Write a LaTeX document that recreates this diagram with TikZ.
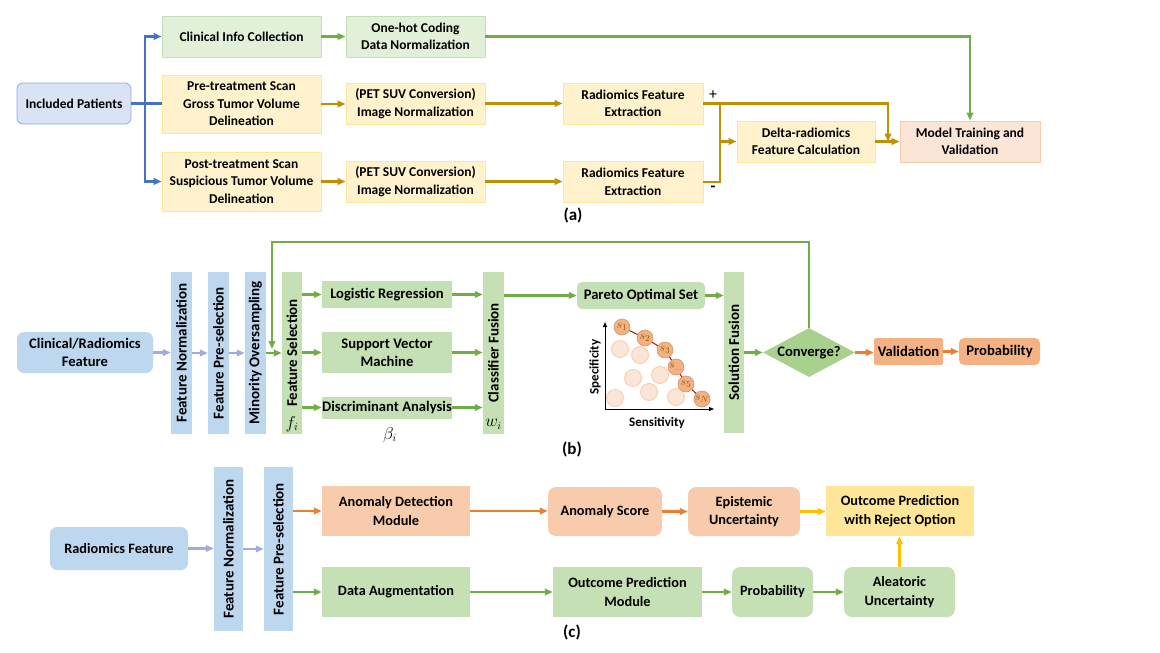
\documentclass[tikz,border=0pt]{standalone}
\usepackage{fontspec}
\setmainfont{Carlito}
\usetikzlibrary{arrows.meta, shapes.geometric, calc}

\definecolor{grnA}{HTML}{E2F0D9}
\definecolor{grnAline}{HTML}{C5E0B4}
\definecolor{ylwA}{HTML}{FFF2CC}
\definecolor{ylwAline}{HTML}{FFE699}
\definecolor{pchA}{HTML}{FBE5D6}
\definecolor{pchAline}{HTML}{F8CBAD}
\definecolor{bluA}{HTML}{DAE3F3}
\definecolor{bluAline}{HTML}{8FAADC}
\definecolor{bluB}{HTML}{BDD7EE}
\definecolor{grnB}{HTML}{C5E0B4}
\definecolor{grnD}{HTML}{A9D18E}
\definecolor{orgB}{HTML}{F4B183}
\definecolor{orgC}{HTML}{F8CBAD}
\definecolor{ylwC}{HTML}{FFE699}
\definecolor{arrBlue}{HTML}{4472C4}
\definecolor{arrGreen}{HTML}{70AD47}
\definecolor{arrGold}{HTML}{BF9000}
\definecolor{arrLav}{RGB}{160,172,222}
\definecolor{arrOrange}{HTML}{ED7D31}
\definecolor{arrYellow}{HTML}{FFC000}
\definecolor{sText}{HTML}{7F6000}

\newcommand\sizeA{\fontsize{13.5}{17.5}\selectfont}
\newcommand\sizeB{\fontsize{14.6}{18}\selectfont}
\newcommand\sizeC{\fontsize{14.3}{18.5}\selectfont}
\newcommand\sizeBar{\fontsize{15}{18}\selectfont}

\begin{document}
\begin{tikzpicture}[x=1pt, y=-1pt, >={Triangle[length=8pt,width=6.5pt]},
    sz/.style 2 args={minimum width=#1, minimum height=#2},
    boxbase/.style={align=center, inner sep=0pt, font=\bfseries\sizeA},
    ga/.style={boxbase, draw=grnAline, fill=grnA, line width=0.8pt},
    ya/.style={boxbase, draw=ylwAline, fill=ylwA, line width=0.8pt},
    pa/.style={boxbase, draw=pchAline, fill=pchA, line width=0.8pt},
    ba/.style={boxbase, draw=bluAline, fill=bluA, line width=0.8pt, rounded corners=6pt},
    bb/.style={boxbase, fill=bluB, rounded corners=7pt, font=\bfseries\sizeB},
    gb/.style={boxbase, fill=grnB, font=\bfseries\sizeB},
    ob/.style={boxbase, fill=orgB, font=\bfseries\sizeB},
    bbar/.style={boxbase, fill=bluB, rotate=90, font=\bfseries\sizeBar},
    gbar/.style={boxbase, fill=grnB, rotate=90, font=\bfseries\sizeBar},
    conv/.style={boxbase, shape=diamond, fill=grnD, aspect=1.9, sz={92}{49}, font=\bfseries\sizeB},
    oc/.style={boxbase, fill=orgC, font=\bfseries\sizeC},
    gc/.style={boxbase, fill=grnB, font=\bfseries\sizeC},
    yc/.style={boxbase, fill=ylwC, font=\bfseries\sizeC},
    lbl/.style={font=\bfseries\fontsize{17}{20}\selectfont},
    mth/.style={font=\fontsize{16}{18}\selectfont},
    barr/.style={draw=arrBlue, line width=2.6pt},
    darr/.style={draw=arrGold, line width=2.6pt},
    garr/.style={draw=arrGreen, line width=2.3pt},
    larr/.style={draw=arrLav, line width=2.3pt},
    oarr/.style={draw=arrOrange, line width=2.3pt},
    yarr/.style={draw=arrYellow, line width=2.3pt},
    axis/.style={->, >={Triangle[length=5pt,width=4pt]}, line width=1pt},
    lightdot/.style={draw=pchAline, fill=pchA, line width=0.8pt},
    pdot/.style={circle, draw=orgB!85!black, fill=orgB, line width=0.6pt, minimum size=16pt, inner sep=0pt,
        text=sText, font=\fontsize{13}{13}\selectfont},
    pline/.style={draw=red!75!black, line width=1pt}]
    \useasboundingbox (0,0) rectangle (1160,653);

    % (a) data preparation
    \node[ba, sz={114}{41}] (pat) at (74,103.5) {Included Patients};
    \node[ga, sz={159}{41}] (clin) at (241.5,36.5) {Clinical Info Collection};
    \node[ga, sz={139}{41}] (onehot) at (415.5,36.5) {One-hot Coding\\Data Normalization};
    \node[ya, sz={159}{58}] (pre) at (241.5,104) {Pre-treatment Scan\\Gross Tumor Volume\\Delineation};
    \node[ya, sz={139}{41}] (peta) at (415.5,103.5) {(PET SUV Conversion)\\Image Normalization};
    \node[ya, sz={159}{59}] (post) at (241.5,181.5) {Post-treatment Scan\\Suspicious Tumor Volume\\Delineation};
    \node[ya, sz={139}{41}] (petb) at (415.5,181.5) {(PET SUV Conversion)\\Image Normalization};
    \node[ya, sz={140}{41}] (rfea) at (633,103.5) {Radiomics Feature\\Extraction};
    \node[ya, sz={140}{41}] (rfeb) at (633,182) {Radiomics Feature\\Extraction};
    \node[ya, sz={138}{41}] (delta) at (806,141.5) {Delta-radiomics\\Feature Calculation};
    \node[pa, sz={140}{41}] (model) at (970,141.5) {Model Training and\\Validation};
    \node[font=\fontsize{16}{16}\selectfont] (plus) at (713,95) {+};
    \node[font=\bfseries\fontsize{16}{16}\selectfont] (minus) at (713,189) {-};
    \node[lbl] (capa) at (573,215) {(a)};

    \coordinate (split) at (145,103.5);
    \coordinate (joint) at (720,141.5);
    \coordinate (dropin) at (888,141.5);
    \draw[barr] (pat.east) -- (split);
    \draw[barr, ->] (split) |- (clin.west);
    \draw[barr, ->] (split) |- (post.west);
    \draw[barr] (split) -- (split -| pre.west);
    \draw[garr, ->] (clin.east) -- (onehot.west);
    \draw[garr, ->] (onehot.east) -| (model.north);
    \draw[darr, ->] (pre.east) -- (pre.east -| peta.west);
    \draw[darr, ->] (peta.east) -- (rfea.west);
    \draw[darr, ->] (post.east) -- (petb.west);
    \draw[darr, ->] (petb.east) -- (petb.east -| rfeb.west);
    \draw[darr] (rfea.east) -| (joint) |- (rfeb.east);
    \draw[darr, ->] (joint) -- (delta.west);
    \draw[darr, ->] (rfea.east) -| (dropin);
    \draw[darr, ->] (delta.east) -- (model.west);

    % (b) multi-objective model
    \node[bb, sz={136}{41}] (crf) at (85,352.5) {Clinical/Radiomics\\Feature};
    \node[bbar, sz={162}{21}] (fnb) at (181.5,353) {Feature Normalization};
    \node[bbar, sz={162}{21}] (fpb) at (218.5,353) {Feature Pre-selection};
    \node[bbar, sz={162}{21}] (mos) at (255.5,353) {Minority Oversampling};
    \node[gbar, sz={162}{20}] (fsel) at (292,353) {Feature Selection};
    \node[mth] (fi) at (292,424) {$f_i$};
    \node[gb, sz={130}{27}] (lr) at (387,294.5) {Logistic Regression};
    \node[gb, sz={130}{41}] (svm) at (387,352.5) {Support Vector\\Machine};
    \node[gb, sz={130}{22}] (da) at (387,407.5) {Discriminant Analysis};
    \node[mth] (beta) at (390,435) {$\beta_i$};
    \node[gbar, sz={162}{21}] (cfu) at (493.5,353) {Classifier Fusion};
    \node[mth] (wi) at (493.5,424) {$w_i$};
    \node[gb, rounded corners=5pt, sz={128}{27}] (pareto) at (641,295.5) {Pareto Optimal Set};
    \node[gbar, sz={161}{20}] (sfu) at (734,352.5) {Solution Fusion};
    \node[conv] (conv) at (809,352.5) {Converge?};
    \node[ob, rounded corners=2pt, sz={69}{27}] (valid) at (908.5,351.5) {Validation};
    \node[ob, rounded corners=5pt, sz={81}{27}] (probb) at (999.5,351.5) {Probability};
    \node[lbl] (capb) at (572,449) {(b)};

    \coordinate (fbin) at (272,349);
    \draw[larr, ->] (crf.east) -- (crf.east -| fnb.north);
    \draw[larr, ->] (fnb.south) -- (fnb.south -| fpb.north);
    \draw[larr, ->] (fpb.south) -- (fpb.south -| mos.north);
    \draw[garr, ->] (mos.south) -- (mos.south -| fsel.north);
    \draw[garr, ->] (conv.north) -- ++(0,-86) -| (fbin);
    \draw[garr, ->] (fsel.south |- lr.west) -- (lr.west);
    \draw[garr, ->] (fsel.south |- svm.west) -- (svm.west);
    \draw[garr, ->] (fsel.south |- da.west) -- (da.west);
    \draw[garr, ->] (lr.east) -- (lr.east -| cfu.north);
    \draw[garr, ->] (svm.east) -- (svm.east -| cfu.north);
    \draw[garr, ->] (da.east) -- (da.east -| cfu.north);
    \draw[garr, ->] (cfu.south |- pareto.west) -- (pareto.west);
    \draw[garr, ->] (pareto.east) -- (pareto.east -| sfu.north);
    \draw[garr, ->] (sfu.south |- conv.west) -- (conv.west);
    \draw[oarr, ->] (conv.east) -- (conv.east -| valid.west);
    \draw[oarr, ->] (valid.east) -- (valid.east -| probb.west);

    % pareto front sketch
    \coordinate (org) at (605,409);
    \draw[axis] (org) -- (605,322);
    \draw[axis] (org) -- (714,409);
    \node[rotate=90, font=\bfseries\fontsize{13}{13}\selectfont] (spec) at (595,367) {Specificity};
    \node[font=\bfseries\fontsize{13}{13}\selectfont] (sens) at (657,423) {Sensitivity};
    \foreach \x/\y in {620/349, 640/355, 633/378, 660/375, 649/392, 615/398, 676/397}
        \draw[lightdot] (\x,\y) circle[radius=8.5pt];
    \foreach \n/\x/\y/\t in {1/622/327/1, 2/645/338/2, 3/665/350/3, 4/676/367/{\dots}, 5/686/384/5, 6/702/399/N}
        \node[pdot] (s\n) at (\x,\y) {$s_{\t}$};
    \draw[pline] (s1) -- (s2) -- (s3) -- (s4) -- (s5) -- (s6);

    % (c) reject option
    \node[bb, font=\bfseries\sizeC, sz={138}{43}] (rfc) at (119,548.5) {Radiomics Feature};
    \node[bbar, sz={164}{29}] (fnc) at (228.5,549) {Feature Normalization};
    \node[bbar, sz={164}{29}] (fpc) at (278.5,549) {Feature Pre-selection};
    \node[oc, sz={148}{50}] (adm) at (396,511) {Anomaly Detection\\Module};
    \node[gc, sz={148}{50}] (dau) at (396,592) {Data Augmentation};
    \node[oc, rounded corners=8pt, sz={114}{49}] (ascore) at (605,511.5) {Anomaly Score};
    \node[oc, rounded corners=8pt, sz={112}{49}] (epi) at (744,511.5) {Epistemic\\Uncertainty};
    \node[yc, sz={148}{50}] (opro) at (900,511) {Outcome Prediction\\with Reject Option};
    \node[gc, sz={149}{50}] (opm) at (627.5,592) {Outcome Prediction\\Module};
    \node[gc, rounded corners=8pt, sz={81}{50}] (probc) at (772.5,592) {Probability};
    \node[gc, rounded corners=8pt, sz={111}{50}] (ale) at (899.5,592) {Aleatoric\\Uncertainty};
    \node[lbl] (capc) at (572,632) {(c)};

    \draw[larr, ->] (rfc.east) -- (rfc.east -| fnc.north);
    \draw[larr, ->] (fnc.south) -- (fnc.south -| fpc.north);
    \draw[oarr, ->] (fpc.south |- adm.west) -- (adm.west);
    \draw[garr, ->] (fpc.south |- dau.west) -- (dau.west);
    \draw[oarr, ->] (adm.east) -- (adm.east -| ascore.west);
    \draw[oarr, ->] (ascore.east) -- (ascore.east -| epi.west);
    \draw[yarr, ->] (epi.east) -- (epi.east -| opro.west);
    \draw[garr, ->] (dau.east) -- (opm.west);
    \draw[garr, ->] (opm.east) -- (probc.west);
    \draw[garr, ->] (probc.east) -- (ale.west);
    \draw[yarr, ->] (ale.north) -- (ale.north |- opro.south);
\end{tikzpicture}
\end{document}
